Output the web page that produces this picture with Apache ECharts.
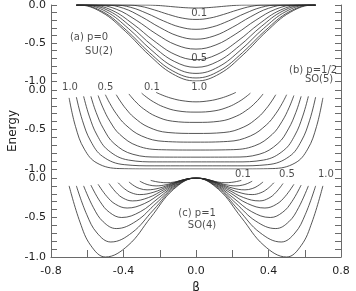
<!DOCTYPE html>
<html><head><meta charset="utf-8">
<script src="https://cdn.jsdelivr.net/npm/echarts@6/dist/echarts.min.js"></script>
<style>html,body{margin:0;padding:0;background:#fff}#c{width:356px;height:291px}</style>
</head><body><div id="c"></div>
<script>
// ---- data: [beta, energy] pairs, curves for parameter 0.1 ... 1.0 ----
const curveParams = ['0.1','0.2','0.3','0.4','0.5','0.6','0.7','0.8','0.9','1.0'];
const betaTickLabels = ['-0.8','-0.4','0.0','0.4','0.8'];
const energyTickLabels = ['0.0','-0.5','-1.0'];

// (a) p=0, SU(2)
const su2Curves = [
 [[-0.66,0],[-0.28,0],[-0.224,-0.004],[-0.168,-0.014],[-0.112,-0.026],[-0.056,-0.036],[0,-0.04],[0.056,-0.036],[0.112,-0.026],[0.168,-0.014],[0.224,-0.004],[0.28,0],[0.66,0]],
 [[-0.66,0],[-0.38,0],[-0.304,-0.018],[-0.228,-0.066],[-0.152,-0.124],[-0.076,-0.172],[0,-0.19],[0.076,-0.172],[0.152,-0.124],[0.228,-0.066],[0.304,-0.018],[0.38,0],[0.66,0]],
 [[-0.66,0],[-0.45,0],[-0.36,-0.031],[-0.27,-0.111],[-0.18,-0.209],[-0.09,-0.289],[0,-0.32],[0.09,-0.289],[0.18,-0.209],[0.27,-0.111],[0.36,-0.031],[0.45,0],[0.66,0]],
 [[-0.66,0],[-0.5,0],[-0.4,-0.043],[-0.3,-0.156],[-0.2,-0.295],[-0.1,-0.407],[0,-0.45],[0.1,-0.407],[0.2,-0.295],[0.3,-0.156],[0.4,-0.043],[0.5,0],[0.66,0]],
 [[-0.66,0],[-0.55,0],[-0.44,-0.055],[-0.33,-0.2],[-0.22,-0.38],[-0.11,-0.525],[0,-0.58],[0.11,-0.525],[0.22,-0.38],[0.33,-0.2],[0.44,-0.055],[0.55,0],[0.66,0]],
 [[-0.66,0],[-0.58,0],[-0.464,-0.069],[-0.348,-0.249],[-0.232,-0.471],[-0.116,-0.651],[0,-0.72],[0.116,-0.651],[0.232,-0.471],[0.348,-0.249],[0.464,-0.069],[0.58,0],[0.66,0]],
 [[-0.66,0],[-0.6,0],[-0.48,-0.078],[-0.36,-0.283],[-0.24,-0.537],[-0.12,-0.742],[0,-0.82],[0.12,-0.742],[0.24,-0.537],[0.36,-0.283],[0.48,-0.078],[0.6,0],[0.66,0]],
 [[-0.66,0],[-0.62,0],[-0.496,-0.086],[-0.372,-0.311],[-0.248,-0.589],[-0.124,-0.814],[0,-0.9],[0.124,-0.814],[0.248,-0.589],[0.372,-0.311],[0.496,-0.086],[0.62,0],[0.66,0]],
 [[-0.66,0],[-0.64,0],[-0.512,-0.092],[-0.384,-0.332],[-0.256,-0.628],[-0.128,-0.868],[0,-0.96],[0.128,-0.868],[0.256,-0.628],[0.384,-0.332],[0.512,-0.092],[0.64,0],[0.66,0]],
 [[-0.66,0],[-0.65,0],[-0.52,-0.096],[-0.39,-0.346],[-0.26,-0.655],[-0.13,-0.905],[0,-1],[0.13,-0.905],[0.26,-0.655],[0.39,-0.346],[0.52,-0.096],[0.65,0],[0.66,0]]
];

// (b) p=1/2, SO(5)
const so5Curves = [
 [[-0.22,-0.03],[-0.209,-0.042],[-0.194,-0.057],[-0.172,-0.077],[-0.132,-0.107],[-0.077,-0.135],[0,-0.15],[0.077,-0.135],[0.132,-0.107],[0.172,-0.077],[0.194,-0.057],[0.209,-0.042],[0.22,-0.03]],
 [[-0.3,-0.04],[-0.285,-0.069],[-0.264,-0.106],[-0.234,-0.151],[-0.18,-0.213],[-0.105,-0.263],[0,-0.28],[0.105,-0.263],[0.18,-0.213],[0.234,-0.151],[0.264,-0.106],[0.285,-0.069],[0.3,-0.04]],
 [[-0.37,-0.05],[-0.352,-0.101],[-0.326,-0.165],[-0.289,-0.239],[-0.222,-0.332],[-0.13,-0.395],[0,-0.41],[0.13,-0.395],[0.222,-0.332],[0.289,-0.239],[0.326,-0.165],[0.352,-0.101],[0.37,-0.05]],
 [[-0.44,-0.06],[-0.418,-0.14],[-0.387,-0.237],[-0.343,-0.345],[-0.264,-0.468],[-0.154,-0.538],[0,-0.55],[0.154,-0.538],[0.264,-0.468],[0.343,-0.345],[0.387,-0.237],[0.418,-0.14],[0.44,-0.06]],
 [[-0.5,-0.06],[-0.475,-0.171],[-0.44,-0.3],[-0.39,-0.438],[-0.3,-0.582],[-0.175,-0.651],[0,-0.66],[0.175,-0.651],[0.3,-0.582],[0.39,-0.438],[0.44,-0.3],[0.475,-0.171],[0.5,-0.06]],
 [[-0.54,-0.07],[-0.513,-0.226],[-0.475,-0.396],[-0.421,-0.561],[-0.324,-0.706],[-0.189,-0.756],[0,-0.76],[0.189,-0.756],[0.324,-0.706],[0.421,-0.561],[0.475,-0.396],[0.513,-0.226],[0.54,-0.07]],
 [[-0.58,-0.08],[-0.551,-0.284],[-0.51,-0.492],[-0.452,-0.677],[-0.348,-0.814],[-0.203,-0.849],[0,-0.85],[0.203,-0.849],[0.348,-0.814],[0.452,-0.677],[0.51,-0.492],[0.551,-0.284],[0.58,-0.08]],
 [[-0.62,-0.08],[-0.589,-0.33],[-0.546,-0.571],[-0.484,-0.764],[-0.372,-0.887],[-0.217,-0.91],[0,-0.91],[0.217,-0.91],[0.372,-0.887],[0.484,-0.764],[0.546,-0.571],[0.589,-0.33],[0.62,-0.08]],
 [[-0.66,-0.09],[-0.627,-0.383],[-0.581,-0.647],[-0.515,-0.841],[-0.396,-0.945],[-0.231,-0.96],[0,-0.96],[0.231,-0.96],[0.396,-0.945],[0.515,-0.841],[0.581,-0.647],[0.627,-0.383],[0.66,-0.09]],
 [[-0.7,-0.1],[-0.665,-0.461],[-0.616,-0.749],[-0.546,-0.925],[-0.42,-0.995],[-0.245,-1],[0,-1],[0.245,-1],[0.42,-0.995],[0.546,-0.925],[0.616,-0.749],[0.665,-0.461],[0.7,-0.1]]
];

// (c) p=1, SO(4)
const so4Curves = [
 [[-0.25,-0.03],[-0.223,-0.045],[-0.196,-0.055],[-0.16,-0.06],[-0.12,-0.051],[-0.08,-0.03],[-0.04,-0.009],[0,0],[0.04,-0.009],[0.08,-0.03],[0.12,-0.051],[0.16,-0.06],[0.196,-0.055],[0.223,-0.045],[0.25,-0.03]],
 [[-0.31,-0.04],[-0.283,-0.071],[-0.256,-0.09],[-0.22,-0.1],[-0.165,-0.085],[-0.11,-0.05],[-0.055,-0.015],[0,0],[0.055,-0.015],[0.11,-0.05],[0.165,-0.085],[0.22,-0.1],[0.256,-0.09],[0.283,-0.071],[0.31,-0.04]],
 [[-0.37,-0.05],[-0.34,-0.101],[-0.31,-0.134],[-0.27,-0.15],[-0.2025,-0.128],[-0.135,-0.075],[-0.0675,-0.022],[0,0],[0.0675,-0.022],[0.135,-0.075],[0.2025,-0.128],[0.27,-0.15],[0.31,-0.134],[0.34,-0.101],[0.37,-0.05]],
 [[-0.43,-0.06],[-0.394,-0.137],[-0.358,-0.186],[-0.31,-0.21],[-0.2325,-0.179],[-0.155,-0.105],[-0.0775,-0.031],[0,0],[0.0775,-0.031],[0.155,-0.105],[0.2325,-0.179],[0.31,-0.21],[0.358,-0.186],[0.394,-0.137],[0.43,-0.06]],
 [[-0.48,-0.07],[-0.441,-0.182],[-0.402,-0.255],[-0.35,-0.29],[-0.2625,-0.248],[-0.175,-0.145],[-0.0875,-0.043],[0,0],[0.0875,-0.043],[0.175,-0.145],[0.2625,-0.248],[0.35,-0.29],[0.402,-0.255],[0.441,-0.182],[0.48,-0.07]],
 [[-0.54,-0.08],[-0.492,-0.233],[-0.444,-0.332],[-0.38,-0.38],[-0.285,-0.324],[-0.19,-0.19],[-0.095,-0.056],[0,0],[0.095,-0.056],[0.19,-0.19],[0.285,-0.324],[0.38,-0.38],[0.444,-0.332],[0.492,-0.233],[0.54,-0.08]],
 [[-0.58,-0.09],[-0.529,-0.299],[-0.478,-0.434],[-0.41,-0.5],[-0.3075,-0.427],[-0.205,-0.25],[-0.1025,-0.073],[0,0],[0.1025,-0.073],[0.205,-0.25],[0.3075,-0.427],[0.41,-0.5],[0.478,-0.434],[0.529,-0.299],[0.58,-0.09]],
 [[-0.62,-0.1],[-0.566,-0.375],[-0.512,-0.554],[-0.44,-0.64],[-0.33,-0.546],[-0.22,-0.32],[-0.11,-0.094],[0,0],[0.11,-0.094],[0.22,-0.32],[0.33,-0.546],[0.44,-0.64],[0.512,-0.554],[0.566,-0.375],[0.62,-0.1]],
 [[-0.66,-0.1],[-0.603,-0.462],[-0.546,-0.696],[-0.47,-0.81],[-0.3525,-0.691],[-0.235,-0.405],[-0.1175,-0.119],[0,0],[0.1175,-0.119],[0.235,-0.405],[0.3525,-0.691],[0.47,-0.81],[0.546,-0.696],[0.603,-0.462],[0.66,-0.1]],
 [[-0.7,-0.1],[-0.64,-0.559],[-0.58,-0.856],[-0.5,-1],[-0.375,-0.854],[-0.25,-0.5],[-0.125,-0.146],[0,0],[0.125,-0.146],[0.25,-0.5],[0.375,-0.854],[0.5,-1],[0.58,-0.856],[0.64,-0.559],[0.7,-0.1]]
];

// text annotations [text, beta, energy] in each panel's own coordinates
const notesA = [['(a) p=0',-0.59,-0.43],['SU(2)',-0.535,-0.61],['0.1',0.017,-0.105],['0.5',0.017,-0.70],['1.0',0.017,-1.08]];
const notesB = [['(b) p=1/2',0.646,0.25],['SO(5)',0.679,0.13],['1.0',-0.695,0.03],['0.5',-0.50,0.03],['0.1',-0.243,0.03]];
const notesC = [['(c) p=1',0.006,-0.443],['SO(4)',0.033,-0.595],['0.1',0.259,0.04],['0.5',0.502,0.04],['1.0',0.717,0.04]];

// ---- chart ----
const FONT = 'DejaVu Sans';
const TXT = '#1e1e1e';
const AX = '#6a6a6a';
const L = 51, R = 15;
const panelTops = [5, 90, 178];
const panelHeights = [76, 79, 79];

const grids = panelTops.map((t, i) => ({left: L, right: R, top: t, height: panelHeights[i], outerBoundsMode: 'none', containLabel: false}));
grids.push({left: L, right: R, top: 5, bottom: 291 - 257, outerBoundsMode: 'none', containLabel: false});

const xAxes = [0,1,2].map(i => ({gridIndex: i, type: 'value', min: -0.8, max: 0.8, show: false}));
xAxes.push({
  gridIndex: 3, type: 'value', min: -0.8, max: 0.8, interval: 0.4,
  axisLine: {show: true, onZero: false, lineStyle: {color: AX, width: 1}},
  axisTick: {show: true, inside: true, length: 7, lineStyle: {color: AX}},
  minorTick: {show: true, splitNumber: 2, length: 7, lineStyle: {color: AX}},
  splitLine: {show: false},
  axisLabel: {color: TXT, fontFamily: FONT, fontSize: 11, margin: 9,
    formatter: v => betaTickLabels[Math.round((v + 0.8) / 0.4)] || ''},
  name: 'β', nameLocation: 'middle', nameGap: 19,
  nameTextStyle: {color: TXT, fontFamily: FONT, fontSize: 12, verticalAlign: 'top'}
});

const yAxes = [];
[0,1,2].forEach(i => {
  const base = {
    gridIndex: i, type: 'value', min: -1, max: 0, interval: 0.5,
    axisLine: {show: false, onZero: false},
    axisTick: {show: true, inside: true, length: 6, lineStyle: {color: AX}},
    minorTick: {show: true, splitNumber: 5, length: 6, lineStyle: {color: AX}},
    splitLine: {show: false}
  };
  yAxes.push(Object.assign({}, base, {position: 'left',
    axisLabel: {color: TXT, fontFamily: FONT, fontSize: 11, margin: 5,
      formatter: v => energyTickLabels[Math.round(-v / 0.5)] || ''}}));
  yAxes.push(Object.assign({}, base, {position: 'right', axisLabel: {show: false}}));
});
yAxes.push({gridIndex: 3, type: 'value', min: 0, max: 1, position: 'left',
  axisLine: {show: true, onZero: false, lineStyle: {color: AX, width: 1}}, axisTick: {show: false},
  axisLabel: {show: false}, splitLine: {show: false},
  name: 'Energy', nameLocation: 'middle', nameGap: 32, nameRotate: 90,
  nameTextStyle: {color: TXT, fontFamily: FONT, fontSize: 12}});
yAxes.push({gridIndex: 3, type: 'value', min: 0, max: 1, position: 'right',
  axisLine: {show: true, onZero: false, lineStyle: {color: AX, width: 1}}, axisTick: {show: false},
  axisLabel: {show: false}, splitLine: {show: false}});

const series = [];
[su2Curves, so5Curves, so4Curves].forEach((curves, i) => {
  curves.forEach((c, k) => series.push({
    type: 'line', name: curveParams[k], xAxisIndex: i, yAxisIndex: 2 * i, data: c,
    smooth: 0.4, showSymbol: false, symbol: 'none', silent: true,
    lineStyle: {width: 0.8, color: '#2b2b2b'}
  }));
});
[notesA, notesB, notesC].forEach((notes, i) => {
  series.push({
    type: 'scatter', xAxisIndex: i, yAxisIndex: 2 * i, clip: false, silent: true,
    symbolSize: 1, itemStyle: {color: 'rgba(0,0,0,0)'},
    data: notes.map(n => ({name: n[0], value: [n[1], n[2]]})),
    label: {show: true, position: 'inside', formatter: '{b}', color: TXT, fontFamily: FONT, fontSize: 10}
  });
});

const chart = echarts.init(document.getElementById('c'), null, {renderer: 'canvas'});
chart.setOption({animation: false, backgroundColor: '#fff', grid: grids, xAxis: xAxes, yAxis: yAxes, series: series});
</script></body></html>
